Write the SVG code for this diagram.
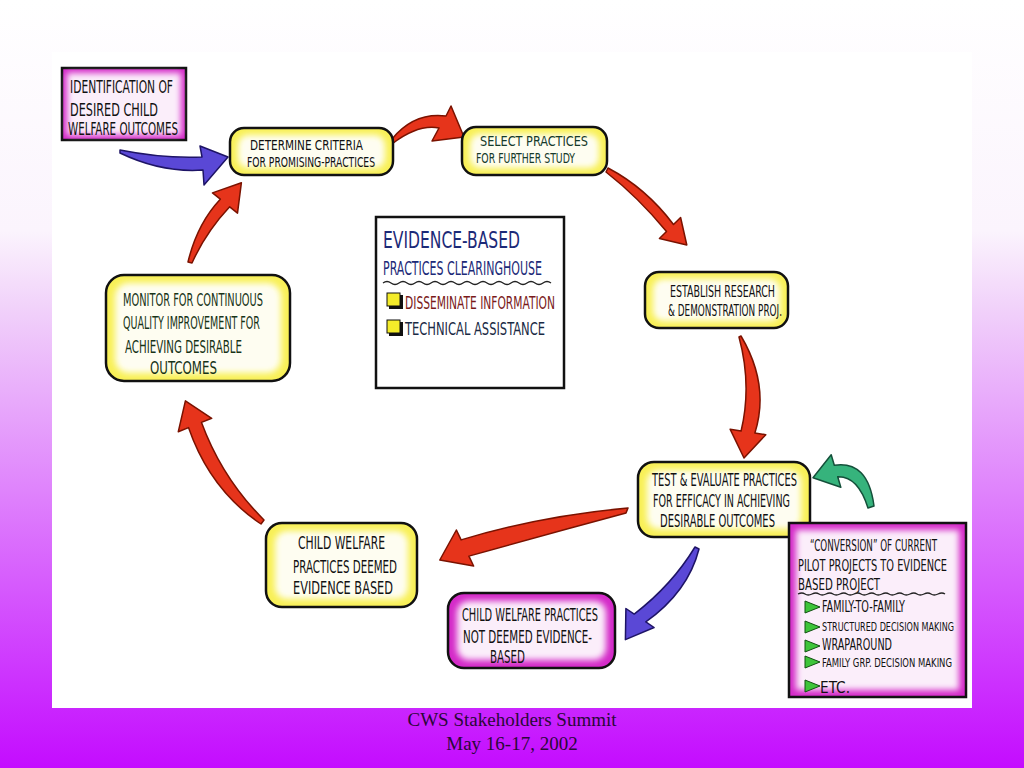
<svg xmlns="http://www.w3.org/2000/svg" width="1024" height="768" viewBox="0 0 1024 768">
<defs>
<linearGradient id="bg" x1="0" y1="0" x2="0" y2="1">
<stop offset="0" stop-color="#ffffff"/>
<stop offset="0.3" stop-color="#fbf4fd"/>
<stop offset="0.4" stop-color="#f1d2fa"/>
<stop offset="1" stop-color="#c40cff"/>
</linearGradient>
<filter id="soft" x="-20%" y="-20%" width="140%" height="140%"><feGaussianBlur stdDeviation="3"/></filter>
</defs>
<style>
.hand{font-family:"DejaVu Sans Condensed","Liberation Sans Narrow","DejaVu Sans",sans-serif;font-stretch:condensed;font-size:17px;fill:#111;}
.s13{font-size:13px}
.s14{font-size:14px}
.s15{font-size:15px}
.s16{font-size:16px}
.s18{font-size:18px}
.ybox{fill:#f8f057;stroke:#111;stroke-width:2.5}
.mbox{fill:#d42ac8;stroke:#111;stroke-width:2.5}
.inner{fill:#ffffff;opacity:0.92}
.red{fill:#e6341b;stroke:#7a1200;stroke-width:1.5;stroke-linejoin:round}
.blue{fill:#5a48d6;stroke:#1e1466;stroke-width:1.5;stroke-linejoin:round}
.green{fill:#36b37c;stroke:#14503a;stroke-width:1.5;stroke-linejoin:round}
.tri{fill:#3ec43a;stroke:#125012;stroke-width:1}
.wave{fill:none;stroke:#222;stroke-width:1.3}
.foot{font-family:"Liberation Serif","Times New Roman",serif;font-size:19px;fill:#2a0838;text-anchor:middle}
</style>
<rect x="0" y="0" width="1024" height="768" fill="url(#bg)"/>
<rect x="52" y="52" width="920" height="656" fill="#ffffff"/>

<g id="connectors">
<path class="blue" d="M120,150 C150,156 180,158 202,157 L200,146 L228,157 L204,185 L203,170 C175,172 145,165 120,153 Z"/>
<path class="red" d="M392,139 Q414,112 446,116 L451,106 L464,137 L432,141 L439,128 Q418,124 392,144 Z"/>
<path class="red" d="M608,168 Q646,188 673.5,224.5 L680.6,217.5 L686.8,245 L659.4,238.5 L666.5,231.5 Q638,197 606,172 Z"/>
<path class="red" d="M741,336 Q770,385 754.9,433 L765.8,434.7 L744,458 L730.2,429.3 L741.1,431 Q752,385 739,337 Z"/>
<path class="green" d="M874,506 Q868,460 834.3,465.2 L831.2,454.7 L813,477.7 L840.8,487.3 L837.7,476.8 Q858,476 868,508 Z"/>
<path class="red" d="M628,508 Q540,516 461.1,539.9 L456.4,530 L439.8,560 L473.6,566 L468.9,556.1 Q548,534 626,513 Z"/>
<path class="blue" d="M699,549 Q688,592 645.8,621.9 L654.1,627.5 L625.4,639.6 L625.9,608.5 L634.2,614.1 Q672,585 695,547 Z"/>
<path class="red" d="M264,520 Q222,478 201.5,422.4 L211.7,418.3 L185.4,400.8 L178.3,431.7 L188.5,427.6 Q210,490 261,524 Z"/>
<path class="red" d="M192,263 Q206,232 229.7,206.8 L237.5,213.1 L241.4,182.7 L212.5,192.9 L220.3,199.2 Q197,224 188,262 Z"/>
</g>

<g id="identification">
<rect class="mbox" x="62" y="68" width="124" height="72"/>
<rect class="inner" x="67" y="73" width="114" height="62" filter="url(#soft)"/>
<text class="hand" x="70" y="93" textLength="103" lengthAdjust="spacingAndGlyphs">IDENTIFICATION OF</text>
<text class="hand" x="70" y="116" textLength="88" lengthAdjust="spacingAndGlyphs">DESIRED CHILD</text>
<text class="hand" x="68" y="135" textLength="110" lengthAdjust="spacingAndGlyphs">WELFARE OUTCOMES</text>
</g>

<g id="determine">
<rect class="ybox" x="230" y="128" width="163" height="47" rx="14"/>
<rect class="inner" x="238" y="135" width="147" height="33" rx="10" filter="url(#soft)"/>
<text class="hand s14" x="250" y="150" textLength="113" lengthAdjust="spacingAndGlyphs">DETERMINE CRITERIA</text>
<text class="hand s14" x="247" y="167" textLength="128" lengthAdjust="spacingAndGlyphs">FOR PROMISING-PRACTICES</text>
</g>

<g id="select">
<rect class="ybox" x="462" y="127" width="145" height="48" rx="14"/>
<rect class="inner" x="470" y="134" width="129" height="34" rx="10" filter="url(#soft)"/>
<text class="hand s14" style="fill:#163a2a" x="480" y="146" textLength="108" lengthAdjust="spacingAndGlyphs">SELECT PRACTICES</text>
<text class="hand s14" style="fill:#163a2a" x="476" y="163" textLength="99" lengthAdjust="spacingAndGlyphs">FOR FURTHER STUDY</text>
</g>

<g id="clearinghouse">
<rect x="376" y="217" width="188" height="171" fill="#ffffff" stroke="#111" stroke-width="2.5"/>
<text class="hand" style="font-size:23px;fill:#1c2a78" x="383" y="248" textLength="137" lengthAdjust="spacingAndGlyphs">EVIDENCE-BASED</text>
<text class="hand" style="font-size:20px;fill:#1c2a78" x="383" y="275" textLength="159" lengthAdjust="spacingAndGlyphs">PRACTICES CLEARINGHOUSE</text>
<path class="wave" d="M383,283 q4,-3 8,0 t8,0 t8,0 t8,0 t8,0 t8,0 t8,0 t8,0 t8,0 t8,0 t8,0 t8,0 t8,0 t8,0 t8,0 t8,0 t8,0 t8,0 t8,0 t8,0 t8,0"/>
<rect x="389" y="295" width="14" height="14" fill="#111"/>
<rect x="387" y="293" width="13" height="13" fill="#f4ec2a" stroke="#111" stroke-width="1"/>
<text class="hand" style="font-size:18px;fill:#7a1a1a" x="405" y="309" textLength="150" lengthAdjust="spacingAndGlyphs">DISSEMINATE INFORMATION</text>
<rect x="389" y="322" width="14" height="14" fill="#111"/>
<rect x="387" y="320" width="13" height="13" fill="#f4ec2a" stroke="#111" stroke-width="1"/>
<text class="hand" style="font-size:18px;fill:#1a2a44" x="405" y="335" textLength="140" lengthAdjust="spacingAndGlyphs">TECHNICAL ASSISTANCE</text>
</g>

<g id="establish">
<rect class="ybox" x="645" y="272" width="143" height="56" rx="14"/>
<rect class="inner" x="653" y="279" width="127" height="42" rx="10" filter="url(#soft)"/>
<text class="hand s16" x="670" y="297" textLength="105" lengthAdjust="spacingAndGlyphs">ESTABLISH RESEARCH</text>
<text class="hand s16" x="668" y="316" textLength="114" lengthAdjust="spacingAndGlyphs">&amp; DEMONSTRATION PROJ.</text>
</g>

<g id="test">
<rect class="ybox" x="638" y="462" width="172" height="75" rx="16"/>
<rect class="inner" x="647" y="470" width="154" height="59" rx="12" filter="url(#soft)"/>
<text class="hand" x="652" y="486" textLength="145" lengthAdjust="spacingAndGlyphs">TEST &amp; EVALUATE PRACTICES</text>
<text class="hand" x="653" y="507" textLength="137" lengthAdjust="spacingAndGlyphs">FOR EFFICACY IN ACHIEVING</text>
<text class="hand" x="660" y="527" textLength="115" lengthAdjust="spacingAndGlyphs">DESIRABLE OUTCOMES</text>
</g>

<g id="conversion">
<rect class="mbox" x="789" y="523" width="177" height="174"/>
<rect class="inner" x="796" y="530" width="163" height="160" filter="url(#soft)"/>
<text class="hand s15" x="810" y="551" textLength="127" lengthAdjust="spacingAndGlyphs">“CONVERSION” OF CURRENT</text>
<text class="hand s15" x="798" y="571" textLength="149" lengthAdjust="spacingAndGlyphs">PILOT PROJECTS TO EVIDENCE</text>
<text class="hand s15" x="798" y="590" textLength="82" lengthAdjust="spacingAndGlyphs">BASED PROJECT</text>
<path class="wave" d="M798,594 q4,-2 7,0 t7,0 t7,0 t7,0 t7,0 t7,0 t7,0 t7,0 t7,0 t7,0 t7,0 t7,0 t7,0 t7,0 t7,0 t7,0 t7,0 t7,0 t7,0 t7,0 t7,0"/>
<path class="tri" d="M805,601 L820,607 L805,613 Z"/>
<text class="hand s15" x="822" y="612" textLength="83" lengthAdjust="spacingAndGlyphs">FAMILY-TO-FAMILY</text>
<path class="tri" d="M805,621 L820,627 L805,633 Z"/>
<text class="hand s13" x="822" y="631" textLength="132" lengthAdjust="spacingAndGlyphs">STRUCTURED DECISION MAKING</text>
<path class="tri" d="M805,640 L820,646 L805,652 Z"/>
<text class="hand s15" x="822" y="650" textLength="70" lengthAdjust="spacingAndGlyphs">WRAPAROUND</text>
<path class="tri" d="M805,656 L820,662 L805,668 Z"/>
<text class="hand s13" x="822" y="667" textLength="130" lengthAdjust="spacingAndGlyphs">FAMILY GRP. DECISION MAKING</text>
<path class="tri" d="M805,680 L820,686 L805,692 Z"/>
<text class="hand s15" x="820" y="693" textLength="30" lengthAdjust="spacingAndGlyphs">ETC.</text>
</g>

<g id="not-deemed">
<rect class="mbox" x="448" y="593" width="167" height="75" rx="16"/>
<rect class="inner" x="457" y="601" width="149" height="59" rx="12" filter="url(#soft)"/>
<text class="hand" x="462" y="621" textLength="136" lengthAdjust="spacingAndGlyphs">CHILD WELFARE PRACTICES</text>
<text class="hand" x="463" y="643" textLength="129" lengthAdjust="spacingAndGlyphs">NOT DEEMED EVIDENCE-</text>
<text class="hand" x="490" y="663" textLength="35" lengthAdjust="spacingAndGlyphs">BASED</text>
</g>

<g id="deemed">
<rect class="ybox" x="266" y="523" width="151" height="84" rx="16"/>
<rect class="inner" x="275" y="531" width="133" height="68" rx="12" filter="url(#soft)"/>
<text class="hand s18" x="298" y="549" textLength="87" lengthAdjust="spacingAndGlyphs">CHILD WELFARE</text>
<text class="hand s18" x="293" y="573" textLength="104" lengthAdjust="spacingAndGlyphs">PRACTICES DEEMED</text>
<text class="hand s18" x="293" y="594" textLength="100" lengthAdjust="spacingAndGlyphs">EVIDENCE BASED</text>
</g>

<g id="monitor">
<rect class="ybox" x="106" y="275" width="184" height="106" rx="18"/>
<rect class="inner" x="115" y="283" width="166" height="90" rx="14" filter="url(#soft)"/>
<text class="hand s18" style="fill:#173317" x="123" y="306" textLength="140" lengthAdjust="spacingAndGlyphs">MONITOR FOR CONTINUOUS</text>
<text class="hand s18" style="fill:#173317" x="123" y="329" textLength="137" lengthAdjust="spacingAndGlyphs">QUALITY IMPROVEMENT FOR</text>
<text class="hand s18" style="fill:#173317" x="125" y="353" textLength="117" lengthAdjust="spacingAndGlyphs">ACHIEVING DESIRABLE</text>
<text class="hand s18" style="fill:#173317" x="150" y="374" textLength="67" lengthAdjust="spacingAndGlyphs">OUTCOMES</text>
</g>

<g id="footer">
<text class="foot" x="512" y="726">CWS Stakeholders Summit</text>
<text class="foot" x="512" y="750">May 16-17, 2002</text>
</g>
</svg>
